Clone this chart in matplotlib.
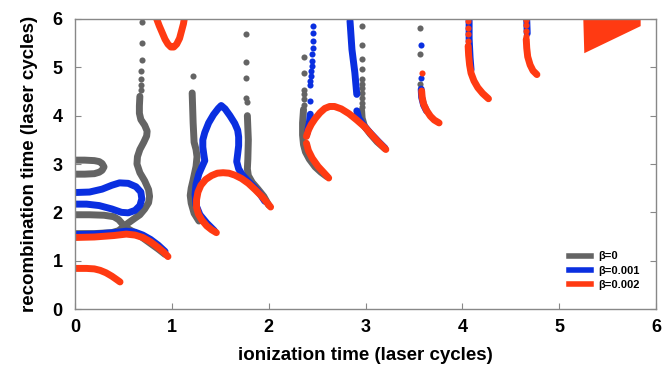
import matplotlib
matplotlib.use('Agg')
import matplotlib.pyplot as plt

# ionization time (x) / recombination time (y)
# beta = 0 (grey)
g_loop_x = [0, 0.10, 0.20, 0.25, 0.28, 0.30, 0.28, 0.25, 0.20, 0.10, 0]
g_loop_y = [3.08, 3.08, 3.07, 3.05, 3.01, 2.94, 2.87, 2.83, 2.80, 2.79, 2.79]
g_cross_x = [0, 0.15, 0.30, 0.40, 0.45, 0.49, 0.53, 0.60, 0.68, 0.77, 0.86, 0.93]
g_cross_y = [1.95, 1.95, 1.94, 1.91, 1.85, 1.76, 1.68, 1.60, 1.50, 1.37, 1.24, 1.13]
g_wave_x = [0, 0.20, 0.38, 0.45, 0.50, 0.55, 0.62, 0.67, 0.72, 0.76, 0.77, 0.76, 0.72, 0.67,
            0.64, 0.645, 0.67, 0.71, 0.74, 0.745, 0.72, 0.68, 0.665, 0.665, 0.67]
g_wave_y = [1.56, 1.56, 1.58, 1.62, 1.70, 1.78, 1.88, 1.95, 2.07, 2.20, 2.33, 2.47, 2.65, 2.82,
            3.00, 3.15, 3.30, 3.45, 3.58, 3.68, 3.80, 3.92, 4.05, 4.20, 4.40]
g_wave_dx = [0.68, 0.68, 0.68, 0.68, 0.69, 0.69, 0.69]
g_wave_dy = [4.54, 4.63, 4.75, 4.92, 5.16, 5.51, 5.94]
g_c2l_x = [1.21, 1.22, 1.23, 1.25, 1.26, 1.25, 1.22, 1.20, 1.19, 1.20, 1.23, 1.28]
g_c2l_y = [4.47, 3.85, 3.45, 3.30, 3.15, 2.95, 2.67, 2.50, 2.35, 2.19, 1.98, 1.82]
g_c2l_dx = [1.22]
g_c2l_dy = [4.82]
g_c2r_x = [1.78, 1.79, 1.785, 1.78, 1.79, 1.83, 1.89, 1.95, 2.00]
g_c2r_y = [4.00, 3.50, 3.10, 2.90, 2.76, 2.62, 2.48, 2.33, 2.15]
g_c2r_dx = [1.77, 1.77, 1.77, 1.77, 1.78]
g_c2r_dy = [5.68, 5.10, 4.77, 4.37, 4.28]
g_c3l_x = [2.36, 2.35, 2.35, 2.36, 2.38, 2.42, 2.48, 2.54, 2.60]
g_c3l_y = [4.13, 3.85, 3.60, 3.40, 3.25, 3.10, 2.94, 2.83, 2.74]
g_c3l_dx = [2.36, 2.36, 2.36, 2.36, 2.36, 2.36]
g_c3l_dy = [5.22, 4.89, 4.54, 4.44, 4.34, 4.23]
g_c3r_x = [2.96, 2.965, 2.99, 3.05, 3.12, 3.20]
g_c3r_y = [4.10, 3.95, 3.78, 3.62, 3.46, 3.32]
g_c3r_dx = [2.96, 2.96, 2.96, 2.96, 2.96, 2.96, 2.96, 2.96, 2.96, 2.96, 2.96]
g_c3r_dy = [5.86, 5.47, 5.18, 4.96, 4.76, 4.66, 4.57, 4.47, 4.37, 4.27, 4.17]
g_c4_dx = [3.56, 3.56, 3.56]
g_c4_dy = [5.82, 5.27, 4.65]

# beta = 0.001 (blue)
b_loop_x = [0, 0.15, 0.28, 0.38, 0.46, 0.55, 0.63, 0.68, 0.69, 0.67, 0.62, 0.55, 0.48, 0.38,
            0.25, 0.12, 0]
b_loop_y = [2.41, 2.42, 2.48, 2.56, 2.61, 2.60, 2.53, 2.42, 2.28, 2.14, 2.04, 1.99, 2.00, 2.07,
            2.14, 2.17, 2.17]
b_low_x = [0, 0.20, 0.40, 0.53, 0.62, 0.70, 0.78, 0.86, 0.93]
b_low_y = [1.54, 1.55, 1.58, 1.61, 1.59, 1.53, 1.44, 1.32, 1.19]
b_lens_x = [1.44, 1.36, 1.29, 1.25, 1.24, 1.25, 1.28, 1.32, 1.34, 1.33, 1.32, 1.32, 1.34, 1.38,
            1.43, 1.48, 1.51, 1.55, 1.60, 1.65, 1.68, 1.69, 1.69, 1.68, 1.67, 1.69, 1.73, 1.79,
            1.85, 1.91, 1.96]
b_lens_y = [1.62, 1.78, 1.95, 2.15, 2.37, 2.58, 2.80, 2.98, 3.07, 3.20, 3.35, 3.50, 3.65, 3.85,
            4.02, 4.15, 4.21, 4.14, 4.00, 3.84, 3.70, 3.56, 3.38, 3.21, 3.05, 2.90, 2.77, 2.64,
            2.52, 2.38, 2.23]
b_c3l_x = [2.43, 2.42, 2.40]
b_c3l_y = [4.03, 3.85, 3.65]
b_c3l_dx = [2.46, 2.46, 2.46, 2.46, 2.45, 2.45, 2.45, 2.44, 2.44, 2.43, 2.43, 2.43]
b_c3l_dy = [5.86, 5.71, 5.55, 5.41, 5.27, 5.13, 5.03, 4.92, 4.82, 4.72, 4.63, 4.30]
b_c3r_x = [2.84, 2.86, 2.89, 2.91]
b_c3r_y = [5.96, 5.37, 4.89, 4.44]
b_c3r2_x = [2.91, 2.93, 2.98, 3.05, 3.13, 3.20]
b_c3r2_y = [4.10, 3.95, 3.80, 3.64, 3.47, 3.33]
b_c4_x = [3.575, 3.58, 3.60, 3.63]
b_c4_y = [4.55, 4.38, 4.22, 4.10]
b_c4_dx = [3.57, 3.57]
b_c4_dy = [5.46, 4.78]
b_c5_x = [4.07, 4.07, 4.08, 4.09]
b_c5_y = [5.99, 5.60, 5.20, 4.95]
b_c6_x = [4.665, 4.67]
b_c6_y = [5.99, 5.70]

# beta = 0.002 (red)
r_low_x = [0, 0.12, 0.20, 0.26, 0.32, 0.38, 0.43, 0.465]
r_low_y = [0.84, 0.84, 0.83, 0.80, 0.75, 0.68, 0.61, 0.56]
r_mid_x = [0, 0.20, 0.40, 0.53, 0.62, 0.70, 0.78, 0.86, 0.92, 0.96]
r_mid_y = [1.48, 1.49, 1.52, 1.55, 1.53, 1.48, 1.39, 1.27, 1.17, 1.085]
r_u_x = [0.84, 0.87, 0.90, 0.93, 0.96, 0.99, 1.02, 1.05, 1.08, 1.10, 1.12, 1.13]
r_u_y = [6.02, 5.86, 5.72, 5.58, 5.48, 5.42, 5.42, 5.48, 5.60, 5.75, 5.90, 6.02]
r_arch2_x = [1.46, 1.41, 1.36, 1.31, 1.275, 1.255, 1.255, 1.27, 1.30, 1.35, 1.41, 1.47, 1.53,
             1.59, 1.65, 1.72, 1.79, 1.86, 1.93, 2.02]
r_arch2_y = [1.58, 1.64, 1.72, 1.84, 1.96, 2.10, 2.26, 2.42, 2.56, 2.68, 2.76, 2.81, 2.82,
             2.81, 2.77, 2.70, 2.60, 2.47, 2.33, 2.11]
r_arch3_x = [2.39, 2.41, 2.44, 2.48, 2.53, 2.58, 2.63, 2.68, 2.75, 2.83, 2.91, 2.99, 3.07,
             3.14, 3.21]
r_arch3_y = [3.57, 3.70, 3.82, 3.94, 4.06, 4.15, 4.19, 4.19, 4.14, 4.04, 3.91, 3.77, 3.59,
             3.44, 3.30]
r_tail3_x = [2.39, 2.41, 2.45, 2.51, 2.57, 2.62]
r_tail3_y = [3.43, 3.28, 3.12, 2.95, 2.82, 2.71]
r_c4_x = [3.58, 3.585, 3.60, 3.63, 3.67, 3.71, 3.76]
r_c4_y = [4.51, 4.38, 4.24, 4.11, 3.99, 3.91, 3.85]
r_c4_dx = [3.58]
r_c4_dy = [4.88]
r_c5_x = [4.06, 4.065, 4.075, 4.09, 4.12, 4.16, 4.21, 4.27]
r_c5_y = [5.44, 5.25, 5.05, 4.88, 4.72, 4.58, 4.46, 4.35]
r_c5_dx = [4.06, 4.06, 4.06, 4.06]
r_c5_dy = [5.95, 5.82, 5.68, 5.55]
r_c6_x = [4.66, 4.665, 4.675, 4.70, 4.73, 4.77]
r_c6_y = [5.58, 5.40, 5.22, 5.05, 4.93, 4.85]
r_c6_dx = [4.66, 4.66, 4.66, 4.66]
r_c6_dy = [5.98, 5.88, 5.75, 5.65]
r_wedge_x = [5.27, 5.82, 5.82, 5.28]
r_wedge_y = [6.05, 6.05, 5.88, 5.36]

labels = ['β=0', 'β=0.001', 'β=0.002']
grey = '#646464'
blue = '#0a2fe0'
red = '#ff3a12'

plt.rcParams['font.family'] = ['Liberation Sans', 'DejaVu Sans']

fig = plt.figure(figsize=(6.72, 3.66), dpi=100)
ax = fig.add_axes([0.1116, 0.1557, 0.8646, 0.7924])

lw = 5
ms = 4.4


def curve(x, y, c):
    ax.plot(x, y, color=c, lw=lw, solid_capstyle='round', solid_joinstyle='round')


def dots(x, y, c):
    ax.plot(x, y, 'o', color=c, ms=ms, mew=0)


# grey
for x, y in [(g_loop_x, g_loop_y), (g_cross_x, g_cross_y), (g_wave_x, g_wave_y),
             (g_c2l_x, g_c2l_y), (g_c2r_x, g_c2r_y), (g_c3l_x, g_c3l_y), (g_c3r_x, g_c3r_y)]:
    curve(x, y, grey)
for x, y in [(g_wave_dx, g_wave_dy), (g_c2l_dx, g_c2l_dy), (g_c2r_dx, g_c2r_dy),
             (g_c3l_dx, g_c3l_dy), (g_c3r_dx, g_c3r_dy), (g_c4_dx, g_c4_dy)]:
    dots(x, y, grey)

# blue
for x, y in [(b_loop_x, b_loop_y), (b_low_x, b_low_y), (b_lens_x, b_lens_y),
             (b_c3l_x, b_c3l_y), (b_c3r_x, b_c3r_y), (b_c3r2_x, b_c3r2_y),
             (b_c4_x, b_c4_y), (b_c5_x, b_c5_y), (b_c6_x, b_c6_y)]:
    curve(x, y, blue)
for x, y in [(b_c3l_dx, b_c3l_dy), (b_c4_dx, b_c4_dy)]:
    dots(x, y, blue)

# red
for x, y in [(r_low_x, r_low_y), (r_mid_x, r_mid_y), (r_u_x, r_u_y), (r_arch2_x, r_arch2_y),
             (r_arch3_x, r_arch3_y), (r_tail3_x, r_tail3_y), (r_c4_x, r_c4_y),
             (r_c5_x, r_c5_y), (r_c6_x, r_c6_y)]:
    curve(x, y, red)
for x, y in [(r_c4_dx, r_c4_dy), (r_c5_dx, r_c5_dy), (r_c6_dx, r_c6_dy)]:
    dots(x, y, red)
ax.fill(r_wedge_x, r_wedge_y, color=red, lw=3, ec=red)

# legend handles
for c, lab in zip([grey, blue, red], labels):
    ax.plot([], [], color=c, lw=4, label=lab)
ax.legend(loc='lower right', bbox_to_anchor=(0.99, 0.03), frameon=False,
          handlelength=2.0, handletextpad=0.7, labelspacing=0.4,
          prop={'size': 8, 'weight': 'bold'})

ax.set_xlim(0, 6)
ax.set_ylim(0, 6)
ax.set_xticks(range(7))
ax.set_yticks(range(7))
ax.tick_params(direction='in', length=4, color='#888888', right=True, top=False,
               labelsize=13)
ax.tick_params(axis='x', pad=7)
ax.tick_params(axis='y', pad=9)
for lab in ax.get_xticklabels() + ax.get_yticklabels():
    lab.set_fontweight('bold')
for s in ax.spines.values():
    s.set_color('#888888')
    s.set_linewidth(1)

ax.set_xlabel('ionization time (laser cycles)', fontsize=13.5, fontweight='bold', labelpad=8)
ax.set_ylabel('recombination time (laser cycles)', fontsize=13.5, fontweight='bold', labelpad=10)

fig.savefig('out.png', dpi=100)
